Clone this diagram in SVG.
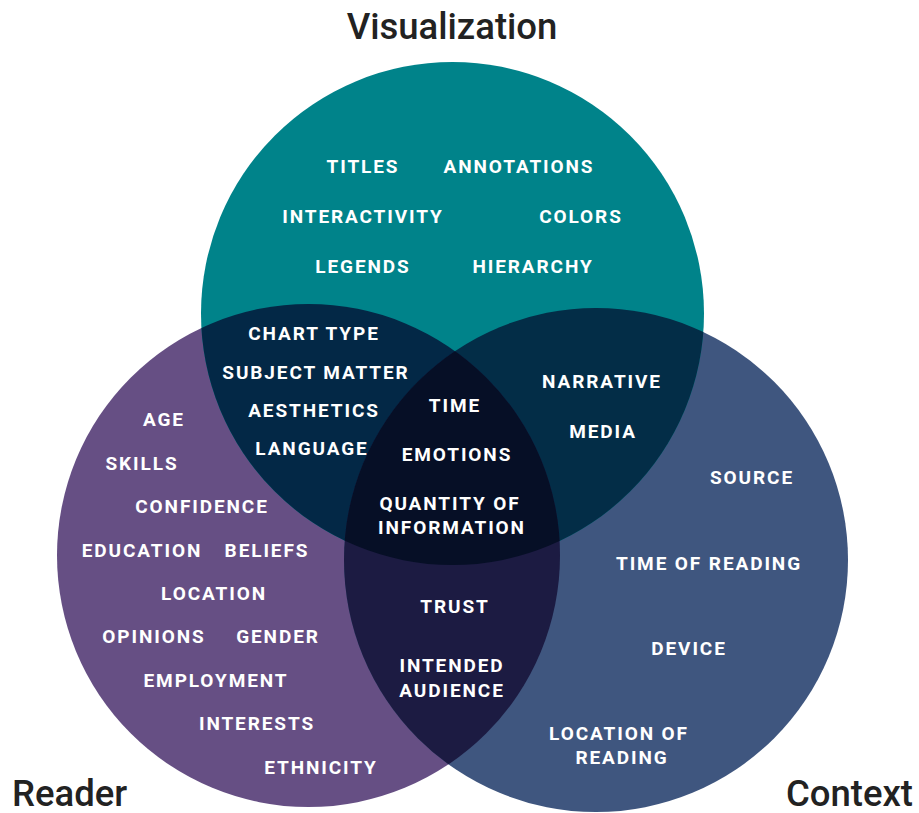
<svg xmlns="http://www.w3.org/2000/svg" width="919" height="813" viewBox="0 0 919 813">
  <style>
    .t { font-family: Roboto, "Liberation Sans", sans-serif; font-weight: 700; font-size: 19px; letter-spacing: 1.9px; fill: #ffffff; text-anchor: middle; }
    .h { font-family: Roboto, "Liberation Sans", sans-serif; font-weight: 500; font-size: 36.5px; fill: #222222; }
  </style>
  <defs>
    <circle id="cViz" cx="452.5" cy="313.5" r="251.5"/>
    <circle id="cReader" cx="308.5" cy="555.5" r="251.5"/>
    <circle id="cContext" cx="596" cy="560" r="252"/>
    <clipPath id="clipViz"><use href="#cViz"/></clipPath>
    <clipPath id="clipReader"><use href="#cReader"/></clipPath>
    <clipPath id="clipContext"><use href="#cContext"/></clipPath>
  </defs>

  <rect width="919" height="813" fill="#ffffff"/>

  <!-- base sets -->
  <g id="set-reader"><use href="#cReader" fill="#664f84"/></g>
  <g id="set-context"><use href="#cContext" fill="#3f567f"/></g>
  <g id="set-viz"><use href="#cViz" fill="#00838a"/></g>

  <!-- pairwise overlaps -->
  <g id="overlap-viz-reader" clip-path="url(#clipViz)"><use href="#cReader" fill="#032846"/></g>
  <g id="overlap-viz-context" clip-path="url(#clipViz)"><use href="#cContext" fill="#032d47"/></g>
  <g id="overlap-reader-context" clip-path="url(#clipReader)"><use href="#cContext" fill="#1c1b42"/></g>
  <!-- triple overlap -->
  <g id="overlap-all" clip-path="url(#clipViz)">
    <g clip-path="url(#clipReader)"><use href="#cContext" fill="#060f26"/></g>
  </g>

  <!-- set titles -->
  <text class="h" x="452" y="39" text-anchor="middle">Visualization</text>
  <text class="h" x="12" y="806">Reader</text>
  <text class="h" x="913" y="806" text-anchor="end">Context</text>

  <!-- Visualization -->
  <g id="labels-viz">
    <text class="t" x="363" y="173">TITLES</text>
    <text class="t" x="519" y="173">ANNOTATIONS</text>
    <text class="t" x="363" y="223">INTERACTIVITY</text>
    <text class="t" x="581" y="223">COLORS</text>
    <text class="t" x="363" y="273">LEGENDS</text>
    <text class="t" x="533" y="273">HIERARCHY</text>
  </g>

  <!-- Visualization & Reader -->
  <g id="labels-viz-reader">
    <text class="t" x="314" y="340">CHART TYPE</text>
    <text class="t" x="316" y="379">SUBJECT MATTER</text>
    <text class="t" x="314" y="417">AESTHETICS</text>
    <text class="t" x="312" y="455">LANGUAGE</text>
  </g>

  <!-- all three -->
  <g id="labels-all">
    <text class="t" x="455" y="412">TIME</text>
    <text class="t" x="457" y="461">EMOTIONS</text>
    <text class="t" x="450" y="510">QUANTITY OF</text>
    <text class="t" x="452" y="534">INFORMATION</text>
  </g>

  <!-- Visualization & Context -->
  <g id="labels-viz-context">
    <text class="t" x="602" y="388">NARRATIVE</text>
    <text class="t" x="603" y="438">MEDIA</text>
  </g>

  <!-- Reader -->
  <g id="labels-reader">
    <text class="t" x="164" y="426">AGE</text>
    <text class="t" x="142" y="470">SKILLS</text>
    <text class="t" x="202" y="513">CONFIDENCE</text>
    <text class="t" x="142" y="557">EDUCATION</text>
    <text class="t" x="267" y="557">BELIEFS</text>
    <text class="t" x="214" y="600">LOCATION</text>
    <text class="t" x="154" y="643">OPINIONS</text>
    <text class="t" x="278" y="643">GENDER</text>
    <text class="t" x="216" y="687">EMPLOYMENT</text>
    <text class="t" x="257" y="730">INTERESTS</text>
    <text class="t" x="321" y="774">ETHNICITY</text>
  </g>

  <!-- Reader & Context -->
  <g id="labels-reader-context">
    <text class="t" x="455" y="613">TRUST</text>
    <text class="t" x="452" y="672">INTENDED</text>
    <text class="t" x="452" y="697">AUDIENCE</text>
  </g>

  <!-- Context -->
  <g id="labels-context">
    <text class="t" x="752" y="484">SOURCE</text>
    <text class="t" x="709" y="570">TIME OF READING</text>
    <text class="t" x="689" y="655">DEVICE</text>
    <text class="t" x="619" y="740">LOCATION OF</text>
    <text class="t" x="622" y="764">READING</text>
  </g>
</svg>
